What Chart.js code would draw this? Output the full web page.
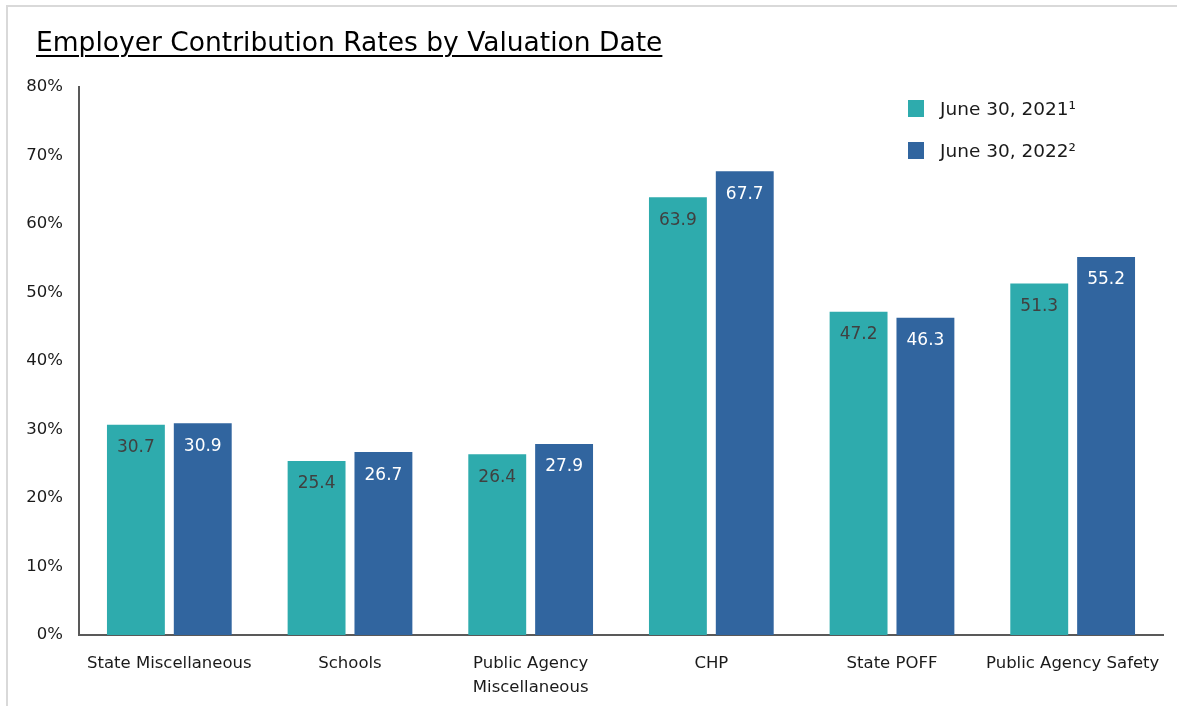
<!DOCTYPE html>
<html>
<head>
<meta charset="utf-8">
<script src="https://cdn.jsdelivr.net/npm/chart.js@4/dist/chart.umd.min.js"></script>
<style>
    html, body { margin: 0; padding: 0; background: #fff; }
    #wrap { position: relative; width: 1177px; height: 706px; overflow: hidden; }
    #frame {
        position: absolute; left: 6px; top: 5px; width: 1200px; height: 800px;
        border-top: 2px solid #d9d9d9; border-left: 2px solid #d9d9d9;
    }
    #title {
        position: absolute; left: 36px; top: 26px;
        font-family: "DejaVu Sans", sans-serif;
        font-size: 26.5px; color: #000; text-decoration: underline;
        text-decoration-thickness: 2px; text-underline-offset: 4px;
        white-space: nowrap;
    }
    #legend { position: absolute; left: 908px; top: 98px; font-family: "DejaVu Sans", sans-serif; font-size: 18.5px; color: #1a1a1a; }
    .item { display: flex; align-items: center; height: 20px; margin-bottom: 22px; }
    .swatch { width: 16px; height: 17px; margin-right: 16px; }
    canvas { position: absolute; left: 0; top: 0; }
</style>
</head>
<body>
<div id="wrap">
    <div id="frame"></div>
    <canvas id="chart" width="1177" height="706"></canvas>
    <div id="title">Employer Contribution Rates by Valuation Date</div>
    <div id="legend"></div>
</div>
<script>
// Chart data
const categories = ['State Miscellaneous', 'Schools', ['Public Agency', 'Miscellaneous'], 'CHP', 'State POFF', 'Public Agency Safety'];
const seriesNames = ['June 30, 2021\u00b9', 'June 30, 2022\u00b2'];
const rates2021 = [30.7, 25.4, 26.4, 63.9, 47.2, 51.3];
const rates2022 = [30.9, 26.7, 27.9, 67.7, 46.3, 55.2];
const yTicks = [0, 10, 20, 30, 40, 50, 60, 70, 80];

const colors = ['#2eabad', '#31659f'];
const labelColors = ['#404040', '#ffffff'];
const FONT = '"DejaVu Sans", sans-serif';

// draws the value inside the top of each bar
const barLabels = {
    id: 'barLabels',
    afterDatasetsDraw(chart) {
        const ctx = chart.ctx;
        ctx.save();
        ctx.font = '17px ' + FONT;
        ctx.textAlign = 'center';
        ctx.textBaseline = 'middle';
        chart.data.datasets.forEach((ds, i) => {
            const meta = chart.getDatasetMeta(i);
            ctx.fillStyle = labelColors[i];
            meta.data.forEach((bar, j) => {
                ctx.fillText(ds.data[j].toFixed(1), bar.x, bar.y + 23);
            });
        });
        ctx.restore();
    }
};

function buildLegend() {
    const box = document.getElementById('legend');
    box.innerHTML = seriesNames.map((name, i) =>
        '<div class="item"><span class="swatch" style="background:' + colors[i] + '"></span>' + name + '</div>'
    ).join('');
}

function initializeChart() {
    const ctx = document.getElementById('chart');
    new Chart(ctx, {
        type: 'bar',
        data: {
            labels: categories,
            datasets: [
                { label: seriesNames[0], data: rates2021, backgroundColor: colors[0] },
                { label: seriesNames[1], data: rates2022, backgroundColor: colors[1] }
            ]
        },
        options: {
            responsive: false,
            animation: false,
            layout: { padding: { top: 87, right: 14, left: 0, bottom: 0 } },
            datasets: {
                bar: { categoryPercentage: 0.74, barPercentage: 0.866 }
            },
            plugins: {
                legend: { display: false },
                tooltip: { enabled: false }
            },
            scales: {
                x: {
                    grid: { display: false },
                    border: { color: '#595959', width: 2 },
                    ticks: {
                        color: '#1a1a1a',
                        font: { family: FONT, size: 16.5, lineHeight: 1.45 },
                        padding: 9,
                        maxRotation: 0,
                        autoSkip: false
                    },
                    afterFit(scale) { scale.height = 71; }
                },
                y: {
                    min: 0,
                    max: 80,
                    afterBuildTicks(scale) { scale.ticks = yTicks.map(v => ({ value: v })); },
                    grid: { display: false, drawTicks: false },
                    border: { color: '#595959', width: 2 },
                    ticks: {
                        color: '#1a1a1a',
                        font: { family: FONT, size: 16.5 },
                        padding: 16,
                        callback: v => v + '%'
                    },
                    afterFit(scale) { scale.width = 79; }
                }
            }
        },
        plugins: [barLabels]
    });
}

document.addEventListener('DOMContentLoaded', () => {
    buildLegend();
    initializeChart();
});
</script>
</body>
</html>
